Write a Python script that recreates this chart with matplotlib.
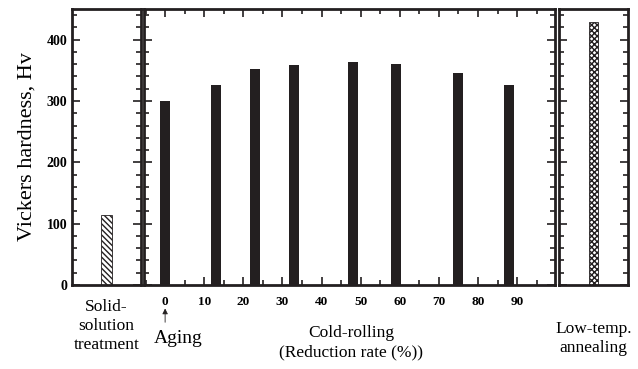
import matplotlib.pyplot as plt
from matplotlib.ticker import MultipleLocator

plt.rcParams['font.family'] = ['Liberation Serif', 'DejaVu Serif']

# Hardness values
solid_label = 'Solid-\nsolution\ntreatment'
solid_hv = 114

rolling_rate = [0, 13, 23, 33, 48, 59, 75, 88]
rolling_hv = [300, 326, 352, 358, 363, 360, 346, 326]

anneal_label = 'Low-temp.\nannealing'
anneal_hv = 428

dark = '#231f20'

fig = plt.figure(figsize=(6.38, 3.69), dpi=100)
ax1 = fig.add_axes([0.1129, 0.2276, 0.1082, 0.748])
ax2 = fig.add_axes([0.2257, 0.2276, 0.6442, 0.748])
ax3 = fig.add_axes([0.8762, 0.2276, 0.1082, 0.748])

for ax in (ax1, ax2, ax3):
    ax.set_ylim(0, 450)
    ax.yaxis.set_major_locator(MultipleLocator(100))
    ax.yaxis.set_minor_locator(MultipleLocator(20))
    ax.tick_params(axis='both', which='both', direction='in', color=dark,
                   left=True, right=True, width=1.2)
    ax.tick_params(axis='y', which='major', length=6)
    ax.tick_params(axis='y', which='minor', length=3.5)
    for s in ax.spines.values():
        s.set_linewidth(2)
        s.set_color(dark)

# left panel
ax1.bar([0.5], [solid_hv], width=0.15, color='white', edgecolor=dark,
        hatch='\\\\\\\\\\\\', linewidth=0.6)
ax1.set_xlim(0, 1)
ax1.set_xticks([])
ax1.tick_params(axis='y', labelsize=10)
for lab in ax1.get_yticklabels():
    lab.set_fontweight('bold')
ax1.set_ylabel('Vickers hardness, Hv', fontsize=16, labelpad=7)
ax1.text(0.5, -0.05, solid_label, transform=ax1.transAxes, ha='center',
         va='top', fontsize=12.5, linespacing=1.25)

# middle panel
ax2.bar(rolling_rate, rolling_hv, width=2.6, color=dark)
ax2.set_xlim(-5.4, 99.7)
ax2.set_xticks(range(0, 100, 10))
ax2.xaxis.set_minor_locator(MultipleLocator(5))
ax2.tick_params(axis='x', which='both', top=True, bottom=True)
ax2.tick_params(axis='x', which='major', length=6, labelsize=9.5, pad=8)
ax2.tick_params(axis='x', which='minor', length=3.5)
for lab in ax2.get_xticklabels():
    lab.set_fontweight('bold')
ax2.set_yticklabels([])
ax2.annotate('', xy=(0, -0.085), xytext=(0, -0.135),
             xycoords=('data', 'axes fraction'),
             arrowprops=dict(arrowstyle='-|>', color=dark, lw=0.6,
                             mutation_scale=8, shrinkA=0, shrinkB=0))
ax2.text(3.3, -0.162, 'Aging', transform=ax2.get_xaxis_transform(),
         ha='center', va='top', fontsize=14)
ax2.text(47.5, -0.145, 'Cold-rolling\n(Reduction rate (%))',
         transform=ax2.get_xaxis_transform(), ha='center', va='top',
         fontsize=12.5, linespacing=1.25)

# right panel
ax3.bar([0.5], [anneal_hv], width=0.14, color='white', edgecolor=dark,
        hatch='xxxxxx', linewidth=0.6)
ax3.set_xlim(0, 1)
ax3.set_xticks([])
ax3.set_yticklabels([])
ax3.text(0.5, -0.13, anneal_label, transform=ax3.transAxes, ha='center',
         va='top', fontsize=12.5, linespacing=1.25)

plt.savefig('out.png', dpi=100)
